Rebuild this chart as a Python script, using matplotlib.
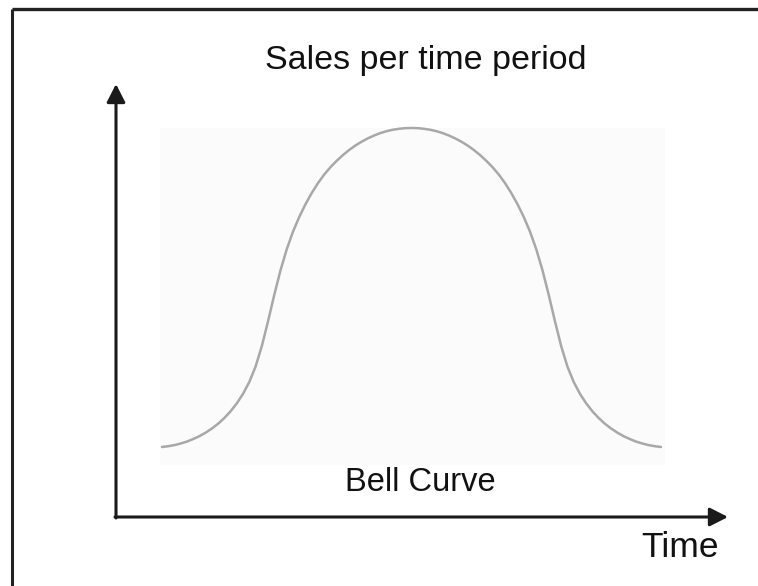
import matplotlib
matplotlib.use("Agg")
import matplotlib.pyplot as plt

plt.rcParams['font.family'] = ['Liberation Sans', 'DejaVu Sans']

# Data (time in arbitrary units, sales in % of peak)
time = [i * 1.25 for i in range(81)]
sales_left = [0, 0.25, 0.6, 1.1, 1.7, 2.5, 3.4, 4.5, 5.8, 7.3, 9.1, 11.2, 13.7,
              16.7, 20.4, 25.2, 31.6, 39.4, 47.7, 55.4, 62.0, 67.5, 72.1, 76.1,
              79.6, 82.7, 85.4, 87.7, 89.7, 91.5, 93.1, 94.5, 95.7, 96.75,
              97.65, 98.4, 99.0, 99.45, 99.75, 99.95]
sales_peak = [100]
sales_right = [99.95, 99.75, 99.45, 99.0, 98.4, 97.65, 96.75, 95.7, 94.5, 93.1,
               91.5, 89.7, 87.7, 85.4, 82.7, 79.6, 76.1, 72.1, 67.5, 62.0, 55.4,
               47.7, 39.4, 31.6, 25.2, 20.4, 16.7, 13.7, 11.2, 9.1, 7.3, 5.8,
               4.5, 3.4, 2.5, 1.7, 1.1, 0.6, 0.25, 0]
sales = sales_left + sales_peak + sales_right

title = "Sales per time period"
curve_label = "Bell Curve"
x_label = "Time"

W, H = 758, 586
fig = plt.figure(figsize=(W / 100, H / 100), dpi=100)
fig.patch.set_facecolor('white')

# curve axes (pale background panel)
L, R, T, B = 160, 665, 128, 465
ax = fig.add_axes([L / W, (H - B) / H, (R - L) / W, (B - T) / H])
ax.set_facecolor('#fbfbfb')
ax.plot(time, sales, color='#a8a8a8', lw=1.8, clip_on=False,
        solid_capstyle='round', solid_joinstyle='round')
ax.set_xlim(-0.4, 100.8)
ax.set_ylim(-5.64, 100)
ax.set_xticks([])
ax.set_yticks([])
for s in ax.spines.values():
    s.set_visible(False)

# overlay in pixel coordinates for frame, arrows, labels
ov = fig.add_axes([0, 0, 1, 1], zorder=5)
ov.set_xlim(0, W)
ov.set_ylim(H, 0)
ov.patch.set_alpha(0)
ov.set_axis_off()

# frame lines (top and left only visible)
ov.plot([12, W], [9, 9], color='#222222', lw=2.4, solid_capstyle='butt')
ov.plot([12, 12], [9, H], color='#222222', lw=2.2, solid_capstyle='butt')

arrow_kw = dict(arrowstyle='-|>,head_length=0.55,head_width=0.28', color='#1a1a1a',
                lw=2.2, shrinkA=0, shrinkB=0, mutation_scale=20)
ov.annotate('', xy=(116, 84), xytext=(116, 518), arrowprops=arrow_kw)
ov.annotate('', xy=(728, 517), xytext=(115, 517), arrowprops=arrow_kw)

ov.text(426, 69, title, fontsize=24.5, ha='center', va='baseline', color='#111111')
ov.text(420, 491, curve_label, fontsize=23.5, ha='center', va='baseline', color='#111111')
ov.text(680, 557, x_label, fontsize=25.5, ha='center', va='baseline', color='#111111')

fig.savefig('out.png', dpi=100)
